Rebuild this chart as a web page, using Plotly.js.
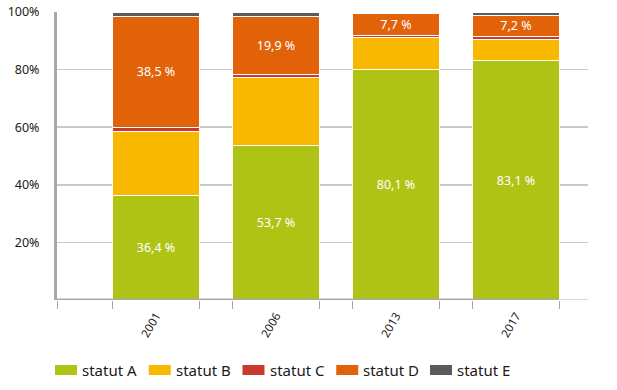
<!DOCTYPE html>
<html>
<head>
<meta charset="utf-8">
<script src="https://cdn.plot.ly/plotly-3.0.1.min.js"></script>
<style>html,body{margin:0;padding:0;background:#fff}#chart{width:617px;height:390px}</style>
</head>
<body>
<div id="chart"></div>
<script>
const years = ["2001", "2006", "2013", "2017"];
const statutA = [36.4, 53.7, 80.1, 83.1];
const statutB = [22.1, 23.5, 11.0, 7.3];
const statutC = [1.5, 1.2, 0.7, 1.2];
const statutD = [38.5, 19.9, 7.7, 7.2];
const statutE = [1.5, 1.7, 0.5, 1.2];
const seriesNames = ["statut A", "statut B", "statut C", "statut D", "statut E"];
const seriesValues = [statutA, statutB, statutC, statutD, statutE];
const seriesColors = ["#afc314", "#f9b800", "#c9392c", "#e2620a", "#5d5b5a"];
const labelled = [true, false, false, true, false];
const yTicks = [20, 40, 60, 80, 100];

const FONT = "Noto Sans, Open Sans, sans-serif";
const BAR_W = 0.72;
const fmt = v => v.toFixed(1).replace('.', ',') + ' %';

const traces = seriesValues.map((vals, i) => ({
  type: 'bar',
  name: seriesNames[i],
  x: years,
  y: vals,
  width: BAR_W,
  marker: {color: seriesColors[i], line: {color: '#ffffff', width: 1}},
  text: labelled[i] ? vals.map(fmt) : vals.map(() => ''),
  textposition: labelled[i] ? 'inside' : 'none',
  insidetextanchor: 'middle',
  constraintext: 'none',
  textfont: {color: '#ffffff', size: 12.5, family: FONT},
  hoverinfo: 'skip',
  showlegend: false
}));

// edge ticks on an overlay axis
const edges = [-0.825];
years.forEach((_, i) => { edges.push(i - BAR_W / 2, i + BAR_W / 2); });
traces.push({type: 'scatter', x: [0], y: [0], xaxis: 'x2', mode: 'none', showlegend: false, hoverinfo: 'skip'});

const XR = [-0.825, 3.6];
const W = 617, H = 390, ML = 57, MR = 29, MT = 12, MB = 90;
const PW = W - ML - MR, PH = H - MT - MB;
const px2x = p => (p - ML) / PW;
const px2y = p => (H - MB - p) / PH;

// legend drawn as swatches + text
const shapes = [
  {type: 'line', xref: 'paper', yref: 'y', x0: 0, x1: 1, y0: 0, y1: 0, line: {color: '#c9c9c6', width: 1.5}, layer: 'below'},
  {type: 'line', xref: 'x2', yref: 'y', x0: XR[0], x1: edges[edges.length - 1], y0: 0, y1: 0, line: {color: '#a9a8a3', width: 3}, layer: 'above'}
];
const annotations = [];
seriesNames.forEach((nm, i) => {
  const x0 = 55 + i * 93.75;
  shapes.push({type: 'rect', xref: 'paper', yref: 'paper', x0: px2x(x0), x1: px2x(x0 + 22),
               y0: px2y(375), y1: px2y(365), fillcolor: seriesColors[i], line: {width: 0}});
  annotations.push({xref: 'paper', yref: 'paper', x: px2x(x0 + 25), y: px2y(370), xanchor: 'left', yanchor: 'middle',
                    text: nm, showarrow: false, font: {size: 15, family: FONT, color: '#1a1a1a'}});
});

const layout = {
  width: W, height: H,
  margin: {l: ML, r: MR, t: MT, b: MB},
  paper_bgcolor: '#ffffff', plot_bgcolor: '#ffffff',
  barmode: 'stack',
  font: {family: FONT, color: '#1a1a1a', size: 12},
  showlegend: false,
  xaxis: {type: 'category', range: XR, showgrid: false, zeroline: false, showline: false,
          ticks: '', tickangle: -60, tickfont: {size: 11.5, family: FONT}, ticklabelstandoff: 6},
  xaxis2: {overlaying: 'x', range: XR, showgrid: false, zeroline: false, showticklabels: false,
           tickmode: 'array', tickvals: edges, ticks: 'outside', ticklen: 8, tickwidth: 1,
           tickcolor: '#a9a8a3', showline: false, anchor: 'y', side: 'bottom'},
  yaxis: {range: [0, 100], tickmode: 'array', tickvals: yTicks, ticktext: yTicks.map(v => v + '%'),
          showgrid: true, gridcolor: '#c9c9c6', gridwidth: 1.5, zeroline: false,
          showline: true, linecolor: '#a9a8a3', linewidth: 3, ticks: '', ticklabelstandoff: 12,
          tickfont: {size: 12.5, family: FONT}},
  shapes: shapes,
  annotations: annotations
};

Plotly.newPlot('chart', traces, layout, {displayModeBar: false, staticPlot: true});
</script>
</body>
</html>
